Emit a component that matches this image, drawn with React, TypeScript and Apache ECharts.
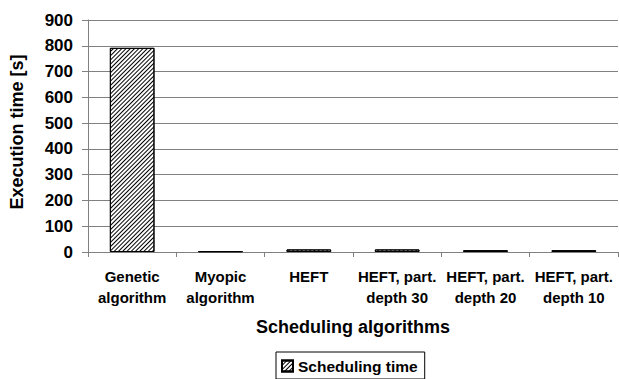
import React, { useEffect, useRef } from "react";
import * as echarts from "echarts";

const categories = [
  "Genetic\nalgorithm",
  "Myopic\nalgorithm",
  "HEFT",
  "HEFT, part.\ndepth 30",
  "HEFT, part.\ndepth 20",
  "HEFT, part.\ndepth 10",
];
const schedulingTime = [792, 3, 10, 10, 7, 7];
const seriesName = "Scheduling time";
const yTicks = { min: 0, max: 900, interval: 100 };

const FONT = "'Liberation Sans', Arial, sans-serif";

export default function App() {
  const ref = useRef<HTMLDivElement>(null);
  useEffect(() => {
    if (!ref.current) return;
    const chart = echarts.init(ref.current, null, { renderer: "svg" });
    const decal = {
      symbol: "rect",
      symbolSize: 1,
      dashArrayX: [1, 0],
      dashArrayY: [1, 1.2],
      rotation: -Math.PI / 4,
      color: "#000",
      backgroundColor: "#fff",
    };
    chart.setOption({
      animation: false,
      backgroundColor: "#fff",
      textStyle: { fontFamily: FONT },
      grid: { left: 80, right: 1, top: 20, bottom: 127, containLabel: false },
      legend: {
        data: [seriesName],
        top: 352,
        left: 276,
        borderColor: "#000",
        borderWidth: 1,
        padding: [6, 7, 5, 5],
        itemWidth: 11,
        itemHeight: 11,
        itemGap: 4,
        icon: "rect",
        textStyle: { fontFamily: FONT, fontWeight: "bold", fontSize: 15.5, color: "#000", padding: [0, 0, 0, 0] },
      },
      xAxis: {
        type: "category",
        data: categories,
        name: "Scheduling algorithms",
        nameLocation: "middle",
        nameGap: 66,
        nameTextStyle: { fontFamily: FONT, fontWeight: "bold", fontSize: 18, color: "#000" },
        axisLine: { lineStyle: { color: "#808080", width: 1 } },
        axisTick: { show: true, length: 5, lineStyle: { color: "#808080" } },
        axisLabel: {
          interval: 0,
          fontFamily: FONT,
          fontWeight: "bold",
          fontSize: 15,
          color: "#000",
          lineHeight: 21,
          margin: 14,
        },
      },
      yAxis: {
        type: "value",
        min: yTicks.min,
        max: yTicks.max,
        interval: yTicks.interval,
        name: "Execution time [s]",
        nameLocation: "middle",
        nameGap: 62,
        nameTextStyle: { fontFamily: FONT, fontWeight: "bold", fontSize: 18, color: "#000", padding: [0, 0, 0, 8] },
        axisLine: { show: true, lineStyle: { color: "#808080", width: 1 } },
        axisTick: { show: true, length: 6, lineStyle: { color: "#808080" } },
        splitLine: { show: true, lineStyle: { color: "#808080", width: 1 } },
        axisLabel: { fontFamily: FONT, fontWeight: "bold", fontSize: 17, color: "#000", margin: 15 },
      },
      series: [
        {
          name: seriesName,
          type: "bar",
          data: schedulingTime,
          barWidth: "50.5%",
          itemStyle: { color: "#fff", borderColor: "#000", borderWidth: 1, decal },
        },
      ],
    });
    return () => chart.dispose();
  }, []);
  return (
    <div
      ref={ref}
      style={{ position: "fixed", left: 0, top: 0, width: 619, height: 379, background: "#fff" }}
    />
  );
}
